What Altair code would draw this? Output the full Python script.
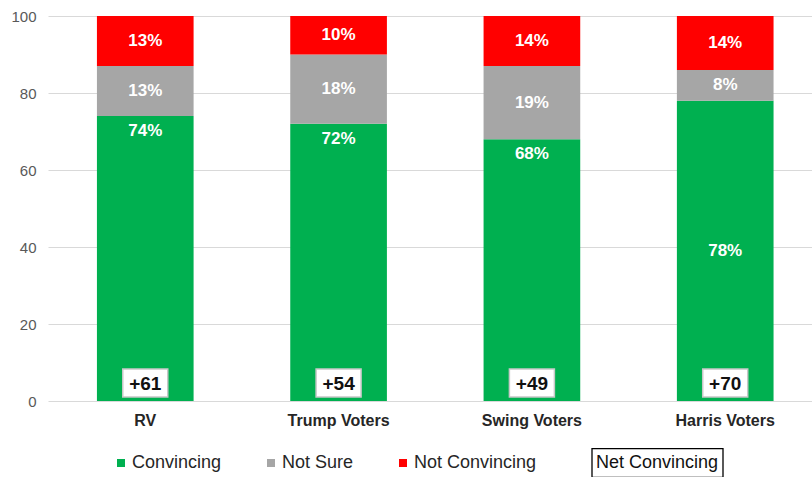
import altair as alt
import pandas as pd

categories = ["RV", "Trump Voters", "Swing Voters", "Harris Voters"]
convincing = [74, 72, 68, 78]
not_sure = [13, 18, 19, 8]
not_convincing = [13, 10, 14, 14]
net_convincing = [61, 54, 49, 70]
series_names = ["Convincing", "Not Sure", "Not Convincing"]
series_colors = ["#00B050", "#A6A6A6", "#FF0000"]
conv_label_mode = ["end", "end", "end", "center"]
net_legend_label = ["Net Convincing"]
y_ticks = [0, 20, 40, 60, 80, 100]

rows = []
for i, cat in enumerate(categories):
    start = 0
    for j, (name, vals) in enumerate(zip(series_names, [convincing, not_sure, not_convincing])):
        v = vals[i]
        end = start + v
        mode = conv_label_mode[i] if j == 0 else "center"
        rows.append({
            "category": cat, "series": name, "order": j, "value": v,
            "start": start, "end": end, "mid": (start + min(end, 100)) / 2,
            "label": f"{v}%", "mode": mode,
        })
        start = end
df = pd.DataFrame(rows)
net_df = pd.DataFrame({"category": categories, "net": [f"+{n}" for n in net_convincing]})
leg_df = pd.DataFrame({"label": net_legend_label})

FONT = "Liberation Sans"

x_enc = alt.X("category:N", sort=categories, title=None,
              scale=alt.Scale(paddingInner=0.5, paddingOuter=0.226, align=0.56),
              axis=alt.Axis(labelFontWeight="bold", labelFontSize=16, labelColor="#262626",
                            ticks=False, domain=False, labelAngle=0, labelPadding=11))
y_scale = alt.Scale(domain=[0, 100], nice=False)

bars = alt.Chart(df).mark_bar(clip=True).encode(
    x=x_enc,
    y=alt.Y("start:Q", scale=y_scale, title=None,
            axis=alt.Axis(values=y_ticks, grid=True, gridColor="#D9D9D9", domain=False,
                          ticks=False, labelFontSize=15, labelColor="#595959",
                          labelPadding=12)),
    y2="end:Q",
    color=alt.Color("series:N",
                    scale=alt.Scale(domain=series_names, range=series_colors),
                    sort=series_names,
                    legend=alt.Legend(title=None, orient="none", legendX=64, legendY=438,
                                      direction="horizontal", symbolType="square",
                                      symbolSize=64, symbolStrokeWidth=0,
                                      labelFontSize=18, labelColor="#262626",
                                      labelFont=FONT, columnPadding=40, labelOffset=2)),
    order=alt.Order("order:Q"),
)

center_labels = alt.Chart(df).transform_filter("datum.mode == 'center'").mark_text(
    color="white", fontWeight="bold", fontSize=17, font=FONT, baseline="middle"
).encode(x=alt.X("category:N", sort=categories), y=alt.Y("mid:Q", scale=y_scale), text="label:N")

end_labels = alt.Chart(df).transform_filter("datum.mode == 'end'").mark_text(
    color="white", fontWeight="bold", fontSize=17, font=FONT, baseline="middle", dy=15
).encode(x=alt.X("category:N", sort=categories), y=alt.Y("end:Q", scale=y_scale), text="label:N")

box_shape = "M-1,-0.622H1V0.622H-1Z"
net_boxes = alt.Chart(net_df).mark_point(
    shape=box_shape, size=2025, filled=True, fill="white", stroke="#C8C8C8",
    strokeWidth=1.5, opacity=1
).encode(x=alt.X("category:N", sort=categories), y=alt.value(367))

net_text = alt.Chart(net_df).mark_text(
    fontWeight="bold", fontSize=19, font=FONT, color="#111111", baseline="middle"
).encode(x=alt.X("category:N", sort=categories), y=alt.value(368), text="net:N")

leg_shape = "M-1,-0.22H1V0.22H-1Z"
leg_box = alt.Chart(leg_df).mark_point(
    shape=leg_shape, size=17161, filled=True, fill="white", stroke="#000000",
    strokeWidth=1.3, opacity=1
).encode(x=alt.value(609.5), y=alt.value(447))

leg_text = alt.Chart(leg_df).mark_text(
    fontSize=18, font=FONT, color="#111111", baseline="middle"
).encode(x=alt.value(609), y=alt.value(447), text="label:N")

chart = alt.layer(bars, center_labels, end_labels, net_boxes, net_text, leg_box, leg_text).properties(
    width=764, height=385,
    autosize=alt.AutoSizeParams(type="none"),
    padding={"left": 48, "top": 16, "right": 0, "bottom": 76},
).configure(font=FONT).configure_view(stroke=None)

chart.save("out.html", embed_options={"renderer": "svg", "actions": False})
